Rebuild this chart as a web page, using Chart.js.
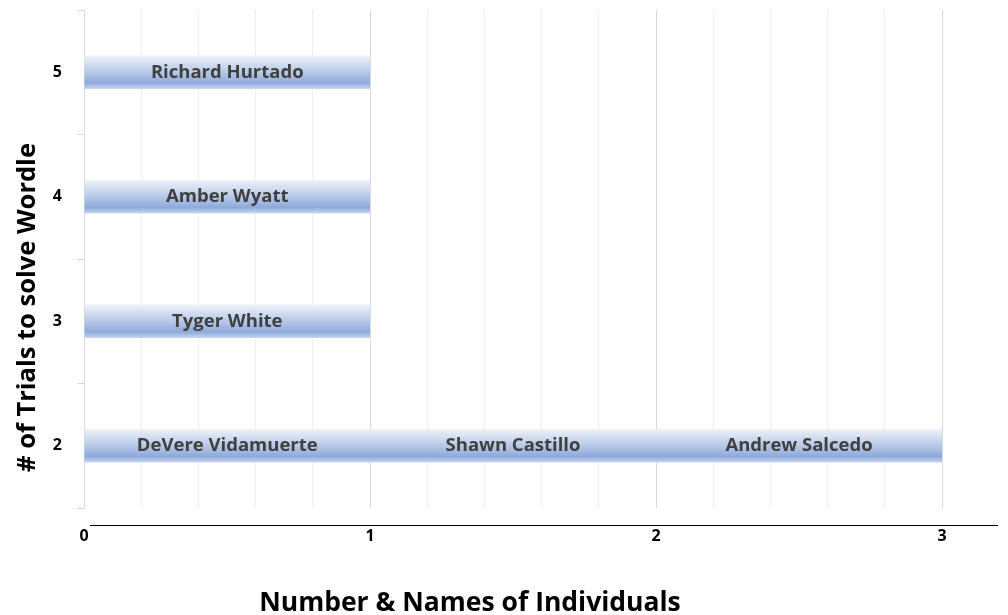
<!DOCTYPE html>
<html>
<head>
<meta charset="utf-8">
<script src="https://cdn.jsdelivr.net/npm/chart.js@4"></script>
<style>
  html, body { margin: 0; padding: 0; background: #fff; }
  #wrap { width: 1008px; height: 615px; }
</style>
</head>
<body>
<div id="wrap"><canvas id="wordleChart"></canvas></div>
<script>
const trials = ['5', '4', '3', '2'];
const firstNames = ['Richard Hurtado', 'Amber Wyatt', 'Tyger White', 'DeVere Vidamuerte'];
const firstCounts = [1, 1, 1, 1];
const secondNames = ['', '', '', 'Shawn Castillo'];
const secondCounts = [0, 0, 0, 1];
const thirdNames = ['', '', '', 'Andrew Salcedo'];
const thirdCounts = [0, 0, 0, 1];
const xTicks = [0, 1, 2, 3];
const xTitle = 'Number & Names of Individuals';
const yTitle = '# of Trials to solve Wordle';

const FONT = '"Open Sans", sans-serif';
const BAR_PCT = 0.27;

function makeSet(counts, names) {
    return {
        data: counts,
        names: names,
        // scriptable so every bar keeps its own options object
        backgroundColor: function() { return '#8eaadb'; },
        borderWidth: 0,
        barPercentage: BAR_PCT,
        categoryPercentage: 1
    };
}

// vertical light-dark-light fill on every bar, built once the bars have their size
const gradientPlugin = {
    id: 'gradient',
    beforeDatasetsDraw(chart) {
        const ctx = chart.ctx;
        chart.data.datasets.forEach(function(ds, i) {
            chart.getDatasetMeta(i).data.forEach(function(bar) {
                const half = bar.height / 2;
                if (!isFinite(bar.y) || !isFinite(half)) return;
                const g = ctx.createLinearGradient(0, bar.y - half, 0, bar.y + half);
                g.addColorStop(0, '#eef2fa');
                g.addColorStop(0.45, '#bccde9');
                g.addColorStop(0.82, '#8eaadb');
                g.addColorStop(1, '#cbd7ef');
                bar.options.backgroundColor = g;
            });
        });
    }
};

const namePlugin = {
    id: 'names',
    afterDatasetsDraw(chart) {
        const ctx = chart.ctx;
        ctx.save();
        ctx.font = 'bold 18.5px ' + FONT;
        ctx.fillStyle = '#404040';
        ctx.textAlign = 'center';
        ctx.textBaseline = 'middle';
        chart.data.datasets.forEach(function(ds, i) {
            chart.getDatasetMeta(i).data.forEach(function(bar, j) {
                const name = ds.names[j];
                if (!name) return;
                const cx = (bar.x + bar.base) / 2;
                ctx.fillText(name, cx, bar.y);
            });
        });
        ctx.restore();
    }
};

// black rule under the plot and the two axis titles, placed the way the original sheet had them
const framePlugin = {
    id: 'frame',
    afterDraw(chart) {
        const a = chart.chartArea;
        const ctx = chart.ctx;
        ctx.save();
        ctx.strokeStyle = '#000';
        ctx.lineWidth = 1.2;
        ctx.beginPath();
        ctx.moveTo(a.left + 6, a.bottom + 17.5);
        ctx.lineTo(chart.width - 10, a.bottom + 17.5);
        ctx.stroke();

        ctx.fillStyle = '#000';
        ctx.textAlign = 'center';
        ctx.textBaseline = 'middle';
        ctx.font = 'bold 26.5px ' + FONT;
        ctx.fillText(xTitle, chart.width / 2 - 34, chart.height - 12);

        ctx.font = 'bold 25.5px ' + FONT;
        ctx.translate(28, chart.height / 2);
        ctx.rotate(-Math.PI / 2);
        ctx.fillText(yTitle, 0, 0);
        ctx.restore();
    }
};

function isMajor(v) {
    return xTicks.some(function(t) { return Math.abs(v - t) < 1e-6; });
}

const chart = new Chart(document.getElementById('wordleChart'), {
    type: 'bar',
    data: {
        labels: trials,
        datasets: [
            makeSet(firstCounts, firstNames),
            makeSet(secondCounts, secondNames),
            makeSet(thirdCounts, thirdNames)
        ]
    },
    options: {
        indexAxis: 'y',
        responsive: true,
        maintainAspectRatio: false,
        animation: false,
        layout: { padding: { top: 10, right: 66 } },
        plugins: {
            legend: { display: false },
            tooltip: { enabled: false }
        },
        scales: {
            x: {
                stacked: true,
                min: 0,
                max: 3,
                ticks: {
                    stepSize: 0.2,
                    autoSkip: false,
                    maxRotation: 0,
                    padding: 19,
                    color: '#000',
                    font: { family: FONT, size: 16, weight: 'bold' },
                    callback: function(v) {
                        return isMajor(v) ? String(Math.round(v)) : '';
                    }
                },
                grid: {
                    drawTicks: false,
                    color: function(c) {
                        return c.tick && isMajor(c.tick.value) ? '#d9d9d9' : '#eeeeee';
                    }
                },
                border: { display: false },
                afterFit: function(s) { s.height = 107; }
            },
            y: {
                stacked: true,
                offset: true,
                ticks: {
                    padding: 15,
                    color: '#000',
                    font: { family: FONT, size: 16, weight: 'bold' }
                },
                grid: {
                    offset: true,
                    drawOnChartArea: false,
                    drawTicks: true,
                    tickLength: 7,
                    color: '#d9d9d9'
                },
                border: { display: true, color: '#d9d9d9' },
                afterFit: function(s) {
                    s.width = 84;
                    s.paddingTop = 0;
                    s.paddingBottom = 0;
                }
            }
        }
    },
    plugins: [gradientPlugin, namePlugin, framePlugin]
});
</script>
</body>
</html>
